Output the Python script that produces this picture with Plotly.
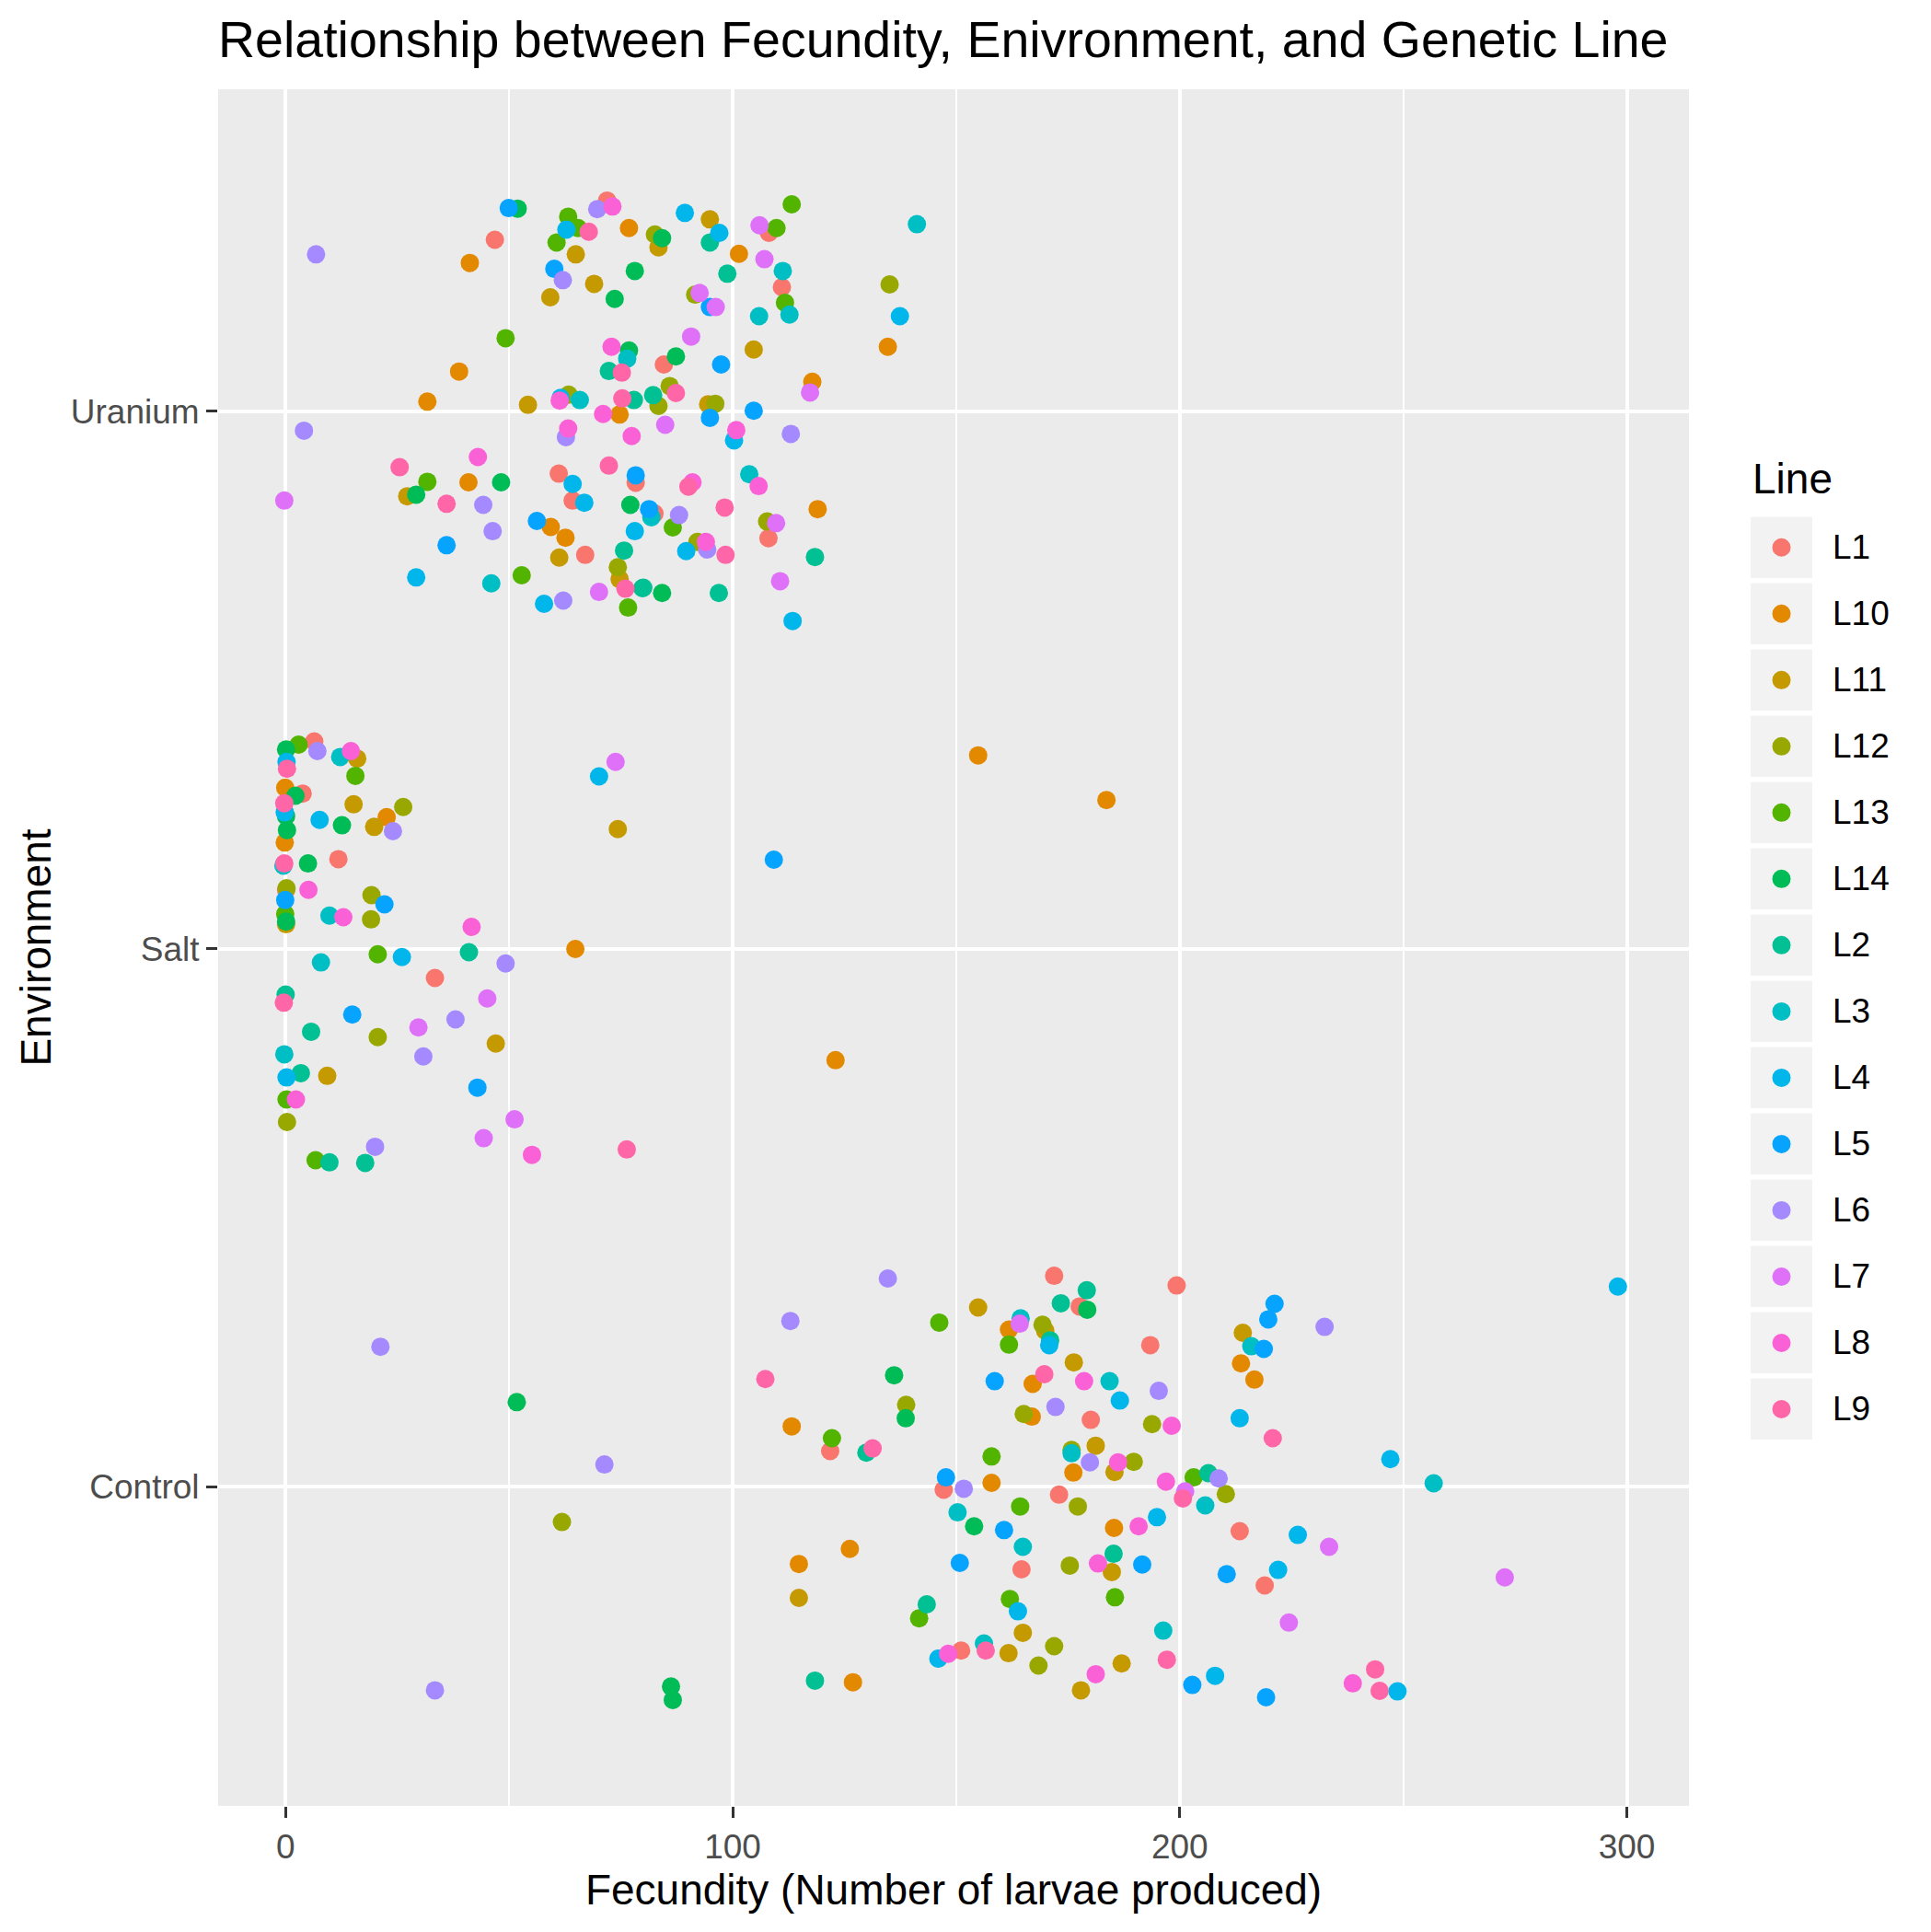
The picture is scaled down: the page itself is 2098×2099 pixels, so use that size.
import pandas as pd
import plotly.graph_objects as go

# line order and ggplot hue palette (14 levels)
lines = ["L1", "L10", "L11", "L12", "L13", "L14", "L2", "L3", "L4", "L5", "L6", "L7", "L8", "L9"]
line_colors = ["#F8766D", "#E38900", "#C49A00", "#99A800", "#53B400", "#00BC56", "#00C094",
               "#00BFC4", "#00B6EB", "#06A4FF", "#A58AFF", "#DF70F8", "#FB61D7", "#FF66A8"]

environments = ["Control", "Salt", "Uranium"]

# (line, fecundity, vertical jitter)
uranium = [
    ("L6", 6.8, 0.292), ("L5", 49.9, 0.378), ("L14", 51.9, 0.377), ("L1", 46.8, 0.319),
    ("L10", 41.2, 0.276), ("L1", 71.9, 0.392), ("L8", 73.1, 0.381), ("L6", 69.7, 0.376),
    ("L13", 63.2, 0.362), ("L4", 62.8, 0.338), ("L13", 65.4, 0.341), ("L9", 67.8, 0.334),
    ("L10", 76.8, 0.341), ("L13", 60.6, 0.314), ("L11", 64.9, 0.292), ("L5", 60.1, 0.265),
    ("L6", 62.0, 0.244), ("L11", 69.0, 0.237), ("L11", 59.2, 0.212), ("L14", 73.6, 0.209),
    ("L14", 78.1, 0.261), ("L13", 49.2, 0.136), ("L8", 72.9, 0.120), ("L3", 76.4, 0.098),
    ("L14", 76.8, 0.113), ("L2", 72.3, 0.075), ("L9", 75.2, 0.072), ("L10", 38.8, 0.074),
    ("L10", 31.7, 0.018), ("L11", 54.2, 0.012), ("L4", 61.5, 0.025), ("L8", 61.3, 0.020),
    ("L12", 63.3, 0.031), ("L3", 65.8, 0.021), ("L9", 75.3, 0.024), ("L2", 77.9, 0.021),
    ("L8", 71.0, -0.005), ("L10", 74.7, -0.006), ("L6", 4.1, -0.036), ("L6", 62.7, -0.048),
    ("L8", 63.2, -0.032), ("L8", 77.4, -0.046), ("L9", 25.5, -0.104), ("L8", 43.0, -0.085),
    ("L13", 31.7, -0.131), ("L10", 40.9, -0.132), ("L14", 48.2, -0.132), ("L11", 27.2, -0.158),
    ("L14", 29.2, -0.155), ("L7", -0.3, -0.166), ("L9", 36.0, -0.172), ("L6", 44.2, -0.174),
    ("L1", 61.1, -0.116), ("L4", 64.2, -0.135), ("L1", 64.2, -0.166), ("L4", 66.8, -0.170),
    ("L9", 72.3, -0.101), ("L1", 78.3, -0.133), ("L5", 78.3, -0.119), ("L14", 77.1, -0.174),
    ("L6", 46.3, -0.223), ("L5", 56.2, -0.204), ("L10", 59.3, -0.215), ("L10", 62.6, -0.235),
    ("L11", 61.2, -0.272), ("L1", 67.0, -0.267), ("L5", 36.0, -0.249), ("L4", 78.1, -0.223),
    ("L2", 75.7, -0.259), ("L11", 74.7, -0.312), ("L12", 74.3, -0.290), ("L9", 76.0, -0.330),
    ("L2", 79.8, -0.329), ("L4", 29.2, -0.309), ("L3", 46.0, -0.320), ("L13", 52.8, -0.305),
    ("L4", 57.8, -0.358), ("L6", 62.1, -0.352), ("L7", 70.1, -0.336), ("L13", 76.6, -0.365),
    ("L11", 83.4, 0.305), ("L12", 82.6, 0.329), ("L14", 84.2, 0.322), ("L4", 89.3, 0.369),
    ("L11", 94.9, 0.357), ("L2", 94.9, 0.314), ("L4", 97.0, 0.332), ("L2", 98.8, 0.256),
    ("L10", 101.4, 0.293), ("L1", 108.1, 0.332), ("L7", 106.0, 0.346), ("L13", 109.8, 0.341),
    ("L13", 113.2, 0.385), ("L7", 107.1, 0.283), ("L3", 111.2, 0.261), ("L1", 111.0, 0.231),
    ("L3", 112.7, 0.180), ("L13", 111.7, 0.202), ("L3", 105.9, 0.177), ("L3", 141.2, 0.348),
    ("L12", 135.1, 0.236), ("L4", 137.4, 0.177), ("L10", 134.7, 0.120), ("L7", 92.6, 0.220),
    ("L12", 91.6, 0.217), ("L5", 94.9, 0.194), ("L7", 96.2, 0.194), ("L7", 90.7, 0.139),
    ("L11", 104.7, 0.115), ("L5", 97.4, 0.087), ("L1", 84.6, 0.087), ("L14", 87.3, 0.102),
    ("L7", 117.3, 0.035), ("L10", 117.8, 0.055), ("L2", 82.2, 0.030), ("L9", 87.3, 0.034),
    ("L12", 85.9, 0.047), ("L12", 83.4, 0.010), ("L11", 94.5, 0.013), ("L12", 96.1, 0.014),
    ("L5", 94.9, -0.012), ("L5", 104.7, 0.001), ("L7", 84.9, -0.025), ("L4", 100.3, -0.054),
    ("L8", 100.8, -0.035), ("L6", 113.0, -0.042), ("L9", 90.1, -0.140), ("L8", 91.0, -0.132),
    ("L3", 103.7, -0.117), ("L8", 105.8, -0.139), ("L9", 98.2, -0.179), ("L1", 82.5, -0.190),
    ("L3", 81.8, -0.197), ("L5", 81.3, -0.182), ("L6", 88.0, -0.193), ("L13", 86.6, -0.216),
    ("L7", 109.7, -0.208), ("L12", 107.7, -0.205), ("L1", 108.0, -0.236), ("L10", 119.0, -0.182),
    ("L2", 118.4, -0.271), ("L7", 110.6, -0.316), ("L4", 113.4, -0.390), ("L4", 89.6, -0.260),
    ("L6", 94.3, -0.257), ("L8", 94.0, -0.243), ("L12", 92.1, -0.243), ("L9", 98.4, -0.267),
    ("L2", 80.0, -0.328), ("L14", 84.2, -0.338), ("L2", 96.9, -0.338),
]

salt = [
    ("L1", 6.4, 0.386), ("L13", 2.9, 0.380), ("L14", 0.1, 0.371), ("L6", 7.1, 0.368),
    ("L8", 14.6, 0.368), ("L3", 12.2, 0.357), ("L11", 16.0, 0.354), ("L4", 0.2, 0.348),
    ("L9", 0.3, 0.335), ("L13", 15.6, 0.322), ("L10", -0.1, 0.300), ("L1", 3.8, 0.289),
    ("L14", 2.2, 0.285), ("L9", -0.3, 0.271), ("L4", -0.2, 0.254), ("L14", 0.1, 0.247),
    ("L14", 0.3, 0.221), ("L10", -0.2, 0.198), ("L11", 15.2, 0.269), ("L12", 26.3, 0.264),
    ("L10", 22.6, 0.245), ("L11", 19.8, 0.227), ("L6", 24.0, 0.219), ("L4", 7.6, 0.240),
    ("L14", 12.6, 0.230), ("L1", 11.8, 0.167), ("L14", 5.0, 0.159), ("L3", -0.5, 0.155),
    ("L9", -0.3, 0.159), ("L1", 0.1, 0.110), ("L12", 0.2, 0.113), ("L8", 5.1, 0.110),
    ("L5", -0.1, 0.091), ("L13", -0.1, 0.065), ("L11", 0.1, 0.046), ("L14", 0.1, 0.051),
    ("L12", 19.2, 0.100), ("L5", 22.1, 0.083), ("L3", 9.8, 0.062), ("L8", 12.9, 0.059),
    ("L12", 19.1, 0.055), ("L8", 41.6, 0.041), ("L7", 73.8, 0.348), ("L4", 70.1, 0.321),
    ("L11", 74.3, 0.223), ("L10", 64.8, 0.000), ("L13", 20.6, -0.010), ("L4", 26.0, -0.015),
    ("L2", 41.0, -0.006), ("L6", 49.2, -0.027), ("L3", 7.9, -0.025), ("L1", 33.4, -0.054),
    ("L2", 0.0, -0.085), ("L9", -0.4, -0.100), ("L7", 45.1, -0.092), ("L5", 14.9, -0.122),
    ("L6", 38.0, -0.131), ("L2", 5.7, -0.154), ("L12", 20.6, -0.164), ("L7", 29.7, -0.146),
    ("L11", 47.0, -0.176), ("L3", -0.3, -0.196), ("L6", 30.8, -0.200), ("L2", 3.4, -0.231),
    ("L4", 0.2, -0.239), ("L11", 9.3, -0.236), ("L5", 42.9, -0.258), ("L8", 2.3, -0.280),
    ("L13", 0.2, -0.280), ("L12", 0.3, -0.322), ("L7", 51.2, -0.317), ("L7", 44.3, -0.352),
    ("L6", 20.0, -0.368), ("L13", 6.7, -0.393), ("L2", 9.8, -0.397), ("L2", 17.8, -0.398),
    ("L8", 55.1, -0.383), ("L9", 76.3, -0.373), ("L10", 154.9, 0.360), ("L10", 183.6, 0.277),
    ("L5", 109.2, 0.166), ("L10", 123.0, -0.207),
]

control = [
    ("L6", 134.7, 0.387), ("L6", 112.9, 0.308), ("L13", 146.2, 0.305), ("L9", 107.3, 0.200),
    ("L14", 136.1, 0.207), ("L12", 138.8, 0.152), ("L14", 138.7, 0.127), ("L10", 113.2, 0.112),
    ("L1", 121.8, 0.066), ("L13", 122.2, 0.090), ("L2", 129.9, 0.063), ("L9", 131.3, 0.071),
    ("L11", 154.9, 0.333), ("L1", 171.9, 0.392), ("L2", 179.2, 0.365), ("L2", 173.4, 0.341),
    ("L1", 177.6, 0.335), ("L14", 179.3, 0.329), ("L3", 164.4, 0.313), ("L7", 164.2, 0.303),
    ("L10", 161.8, 0.292), ("L2", 171.0, 0.272), ("L4", 170.8, 0.263), ("L12", 169.3, 0.301),
    ("L11", 169.9, 0.290), ("L13", 161.8, 0.264), ("L11", 176.3, 0.231), ("L5", 158.6, 0.196),
    ("L10", 167.1, 0.191), ("L9", 169.7, 0.209), ("L8", 178.6, 0.196), ("L3", 184.3, 0.196),
    ("L4", 186.6, 0.160), ("L6", 172.2, 0.148), ("L10", 166.9, 0.130), ("L12", 165.1, 0.135),
    ("L1", 180.1, 0.124), ("L13", 157.9, 0.056), ("L3", 175.8, 0.062), ("L12", 175.8, 0.068),
    ("L11", 181.2, 0.076), ("L6", 179.9, 0.045), ("L10", 176.2, 0.026), ("L8", 186.2, 0.045),
    ("L11", 185.4, 0.027), ("L1", 147.2, -0.006), ("L5", 147.7, 0.017), ("L6", 151.7, -0.004),
    ("L10", 157.9, 0.007), ("L3", 150.3, -0.048), ("L14", 154.0, -0.074), ("L5", 160.7, -0.081),
    ("L13", 164.3, -0.037), ("L1", 173.0, -0.015), ("L12", 177.2, -0.037), ("L3", 164.9, -0.112),
    ("L1", 164.6, -0.154), ("L5", 150.8, -0.142), ("L10", 126.2, -0.116), ("L10", 114.8, -0.144),
    ("L11", 114.8, -0.207), ("L2", 143.4, -0.219), ("L13", 141.7, -0.245), ("L13", 162.0, -0.209),
    ("L4", 163.8, -0.232), ("L12", 175.4, -0.147), ("L8", 181.7, -0.143), ("L10", 185.3, -0.077),
    ("L2", 185.2, -0.125), ("L11", 184.8, -0.159), ("L13", 185.5, -0.206), ("L11", 164.9, -0.272),
    ("L12", 171.9, -0.297), ("L12", 168.4, -0.333), ("L11", 161.7, -0.310), ("L3", 156.2, -0.292),
    ("L9", 156.6, -0.305), ("L4", 146.0, -0.320), ("L1", 151.1, -0.305), ("L8", 148.2, -0.311),
    ("L8", 181.2, -0.349), ("L11", 177.9, -0.379), ("L2", 118.4, -0.361), ("L10", 126.9, -0.364),
    ("L1", 199.3, 0.374), ("L1", 193.4, 0.263), ("L5", 221.2, 0.340), ("L5", 219.8, 0.311),
    ("L6", 232.4, 0.297), ("L11", 214.1, 0.286), ("L3", 216.0, 0.261), ("L5", 218.8, 0.256),
    ("L10", 213.7, 0.229), ("L10", 216.7, 0.199), ("L6", 195.3, 0.178), ("L12", 193.8, 0.116),
    ("L8", 198.2, 0.113), ("L4", 213.4, 0.127), ("L9", 220.8, 0.090), ("L4", 247.1, 0.051),
    ("L3", 256.8, 0.006), ("L12", 189.7, 0.046), ("L8", 196.9, 0.009), ("L2", 206.4, 0.025),
    ("L13", 203.1, 0.017), ("L6", 208.7, 0.015), ("L7", 201.2, -0.009), ("L9", 200.7, -0.022),
    ("L3", 205.7, -0.035), ("L12", 210.3, -0.014), ("L4", 194.9, -0.057), ("L8", 190.8, -0.074),
    ("L1", 213.4, -0.083), ("L4", 226.4, -0.090), ("L7", 233.4, -0.112), ("L5", 191.6, -0.145),
    ("L5", 210.5, -0.163), ("L4", 222.0, -0.155), ("L1", 219.0, -0.184), ("L7", 224.4, -0.253),
    ("L3", 196.3, -0.268), ("L9", 197.1, -0.322), ("L11", 187.0, -0.329), ("L5", 202.8, -0.369),
    ("L4", 207.9, -0.352), ("L5", 219.3, -0.392), ("L8", 238.7, -0.366), ("L9", 243.7, -0.340),
    ("L9", 244.7, -0.380), ("L4", 248.7, -0.381), ("L6", 21.2, 0.260), ("L14", 51.7, 0.157),
    ("L6", 71.3, 0.041), ("L12", 61.8, -0.066), ("L6", 33.4, -0.379), ("L14", 86.2, -0.372),
    ("L14", 86.6, -0.397), ("L4", 298.0, 0.372), ("L7", 272.7, -0.169),
]

rows = []
for env, pts in [("Control", control), ("Salt", salt), ("Uranium", uranium)]:
    for line, fec, jit in pts:
        rows.append({"Line": line, "Environment": env, "Fecundity": fec, "jitter": jit})
df = pd.DataFrame(rows)
df["ypos"] = df["Environment"].map({e: i + 1 for i, e in enumerate(environments)}) + df["jitter"]

fig = go.Figure()

for line, color in zip(lines, line_colors):
    sub = df[df["Line"] == line]
    fig.add_trace(go.Scatter(
        x=sub["Fecundity"], y=sub["ypos"], mode="markers", name=line,
        marker=dict(size=20, color=color, line=dict(width=0)),
        xaxis="x", yaxis="y", showlegend=False))

# hand-built ggplot style legend on its own little axes
key_idx = list(range(len(lines)))
fig.add_trace(go.Scatter(
    x=[0.5] * len(lines), y=key_idx, mode="markers",
    marker=dict(size=20, color=line_colors, line=dict(width=0)),
    xaxis="x2", yaxis="y2", showlegend=False, hoverinfo="skip"))

shapes = [dict(type="rect", xref="x domain", yref="y domain", x0=0, x1=1, y0=0, y1=1,
               fillcolor="#EBEBEB", line=dict(width=0), layer="below")]
for i in key_idx:
    shapes.append(dict(type="rect", xref="x2", yref="y2", x0=0, x1=1, y0=i - 0.46, y1=i + 0.46,
                       fillcolor="#F2F2F2", line=dict(width=0), layer="below"))

annotations = [dict(text=l, xref="paper", yref="y2", x=0.9415, y=i, xanchor="left",
                    yanchor="middle", showarrow=False,
                    font=dict(family="Liberation Sans", size=37, color="black"))
               for i, l in enumerate(lines)]
annotations.append(dict(text="Line", xref="paper", yref="paper", x=0.8947, y=0.7732,
                        xanchor="left", yanchor="middle", showarrow=False,
                        font=dict(family="Liberation Sans", size=46, color="black")))

fig.update_layout(
    width=2090, height=2091,
    margin=dict(l=229, r=0, t=89, b=137),
    paper_bgcolor="white", plot_bgcolor="white",
    font=dict(family="Liberation Sans"),
    title=dict(text="Relationship between Fecundity, Enivronment, and Genetic Line",
               xref="paper", x=0, xanchor="left", yref="container", y=0.9833, yanchor="middle",
               font=dict(family="Liberation Sans", size=55.5, color="black")),
    xaxis=dict(domain=[0, 0.8587], range=[-15.1, 313.9], tickvals=[0, 100, 200, 300],
               showgrid=True, gridcolor="white", gridwidth=4, zeroline=False,
               minor=dict(tickvals=[50, 150, 250], showgrid=True, gridcolor="white", gridwidth=2),
               ticks="outside", ticklen=12, tickwidth=3, tickcolor="#333333",
               tickfont=dict(family="Liberation Sans", size=37, color="#4D4D4D"),
               title=dict(text="Fecundity (Number of larvae produced)", standoff=6,
                          font=dict(family="Liberation Sans", size=46, color="black")),
               showline=False, anchor="y"),
    yaxis=dict(domain=[0, 1], range=[0.406, 3.599], tickvals=[1, 2, 3], ticktext=environments,
               showgrid=True, gridcolor="white", gridwidth=4, zeroline=False,
               ticks="outside", ticklen=12, tickwidth=3, tickcolor="#333333",
               tickfont=dict(family="Liberation Sans", size=37, color="#4D4D4D"),
               title=dict(text="Environment", standoff=6,
                          font=dict(family="Liberation Sans", size=46, color="black")),
               showline=False, anchor="x"),
    xaxis2=dict(domain=[0.8947, 0.9307], range=[0, 1], visible=False, anchor="y2"),
    yaxis2=dict(domain=[0.2118, 0.7524], range=[13.5, -0.5], visible=False, anchor="x2"),
    shapes=shapes,
    annotations=annotations,
    hovermode="closest",
)

fig.write_html("out.html")
